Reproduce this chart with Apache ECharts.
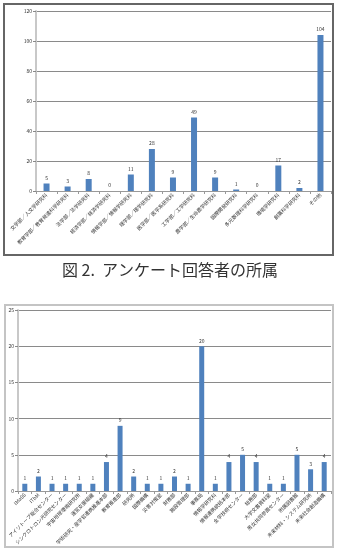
<!DOCTYPE html>
<html><head><meta charset="utf-8">
<script src="https://cdn.jsdelivr.net/npm/echarts@6/dist/echarts.min.js"></script>
<style>html,body{margin:0;padding:0;background:#fff}#c{width:341px;height:550px}</style>
</head><body><div id="c"></div>
<script>
const cats1 = ['文学部／人文学研究科','教育学部／教育発達科学研究科','法学部／法学研究科','経済学部／経済学研究科','情報学部／情報学研究科','理学部／理学研究科','医学部／医学系研究科','工学部／工学研究科','農学部／生命農学研究科','国際開発研究科','多元数理科学研究科','環境学研究科','創薬科学研究科','その他'];
const vals1 = [5,3,8,0,11,28,9,49,9,1,0,17,2,104];
const ticks1 = {min:0,max:120,interval:20};
const cats2 = ['IMaSS','ITbM','アイソトープ総合センター','シンクロトロン光研究センター','宇宙地球環境研究所','運営支援組織','学術研究・産学官連携推進本部','教育推進部','研究所','国際機構','災害対策室','財務部','施設管理部','事務局','情報学研究科','情報連携統括本部','全学技術センター','総務部','大学文書資料室','男女共同参画センター','附属図書館','未来材料・システム研究所','未来社会創造機構'];
const vals2 = [1,2,1,1,1,1,4,9,2,1,1,2,1,20,1,4,5,4,1,1,5,3,4];
const ticks2 = {min:0,max:25,interval:5};
const caption = '図 2.  アンケート回答者の所属';

const FONT = '"Noto Sans CJK JP", sans-serif';
const BLUE = '#4f81bd';
function yAxis(idx, t){
  return {type:'value', gridIndex:idx, min:t.min, max:t.max, interval:t.interval,
    axisLine:{show:true, lineStyle:{color:'#c8c8c8', width:2}},
    axisTick:{show:true, length:3, lineStyle:{color:'#888'}},
    axisLabel:{fontSize:5, color:'#333', margin:4, fontFamily:FONT},
    splitLine:{show:true, lineStyle:{color:'#8a8a8a', width:1}}};
}
function xAxis(idx, c){
  return {type:'category', gridIndex:idx, data:c,
    axisLine:{show:true, lineStyle:{color:'#999', width:1}},
    axisTick:{show:true, length:3, alignWithLabel:false, lineStyle:{color:'#999'}},
    axisLabel:{rotate:45, interval:0, fontSize:5, color:'#333', margin:3, fontFamily:FONT}};
}
function series(idx, v, w){
  return {type:'bar', xAxisIndex:idx, yAxisIndex:idx, data:v, barWidth:w,
    itemStyle:{color:BLUE},
    label:{show:true, position:'top', distance:3, fontSize:5, color:'#333', fontFamily:FONT}};
}
const chart = echarts.init(document.getElementById('c'), null, {renderer:'canvas'});
chart.setOption({
  animation:false,
  backgroundColor:'#fff',
  grid:[
    {left:36, right:10, top:11, height:180},
    {left:18, right:10, top:310, height:181}
  ],
  xAxis:[xAxis(0,cats1), xAxis(1,cats2)],
  yAxis:[yAxis(0,ticks1), yAxis(1,ticks2)],
  series:[series(0,vals1,6), series(1,vals2,5)],
  graphic:[
    {type:'rect', shape:{x:4, y:4, width:329, height:251}, style:{fill:null, stroke:'#666', lineWidth:2}, silent:true},
    {type:'rect', shape:{x:5, y:305, width:328, height:242}, style:{fill:null, stroke:'#c4c4c4', lineWidth:2}, silent:true},
    {type:'text', x:170, y:270, style:{text:caption, fontSize:16, fontFamily:FONT, fill:'#333', align:'center', verticalAlign:'middle'}}
  ]
});
</script></body></html>
